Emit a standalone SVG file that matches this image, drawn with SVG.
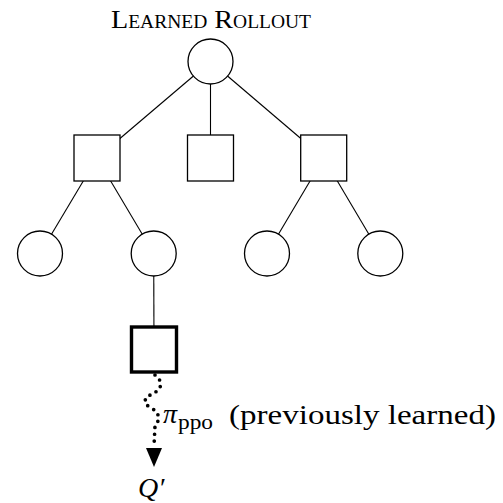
<svg xmlns="http://www.w3.org/2000/svg" width="503" height="503" viewBox="0 0 503 503">
<style>
.edge{stroke:#000;stroke-width:1.1;fill:none}
.node{fill:#fff;stroke:#000;stroke-width:1.3}
.bold{fill:#fff;stroke:#000;stroke-width:3.4}
.t{fill:#000}
</style>
<text class="t" x="111" y="28" font-family="'Liberation Serif','Times New Roman',serif" font-size="26" style="font-variant:small-caps" textLength="200" lengthAdjust="spacingAndGlyphs">Learned Rollout</text>
<g id="connectors">
<line class="edge" x1="210.5" y1="61.5" x2="97" y2="158"/>
<line class="edge" x1="210.5" y1="61.5" x2="210.5" y2="158"/>
<line class="edge" x1="210.5" y1="61.5" x2="323.7" y2="158"/>
<line class="edge" x1="97" y1="158" x2="40" y2="253.5"/>
<line class="edge" x1="97" y1="158" x2="153.7" y2="253.5"/>
<line class="edge" x1="323.7" y1="158" x2="267" y2="253.5"/>
<line class="edge" x1="323.7" y1="158" x2="380.3" y2="253.5"/>
<line class="edge" x1="153.7" y1="253.5" x2="154" y2="349.5"/>
<path d="M155,375 C163,381 163,389 152,394 C142,399 144,404 151,408 C159,412 161,419 155,426 L154,446" fill="none" stroke="#000" stroke-width="3.7" stroke-linecap="round" stroke-dasharray="0 6.8"/>
<polygon points="146,448 162,448 154,467" fill="#000"/>
</g>
<g id="root"><circle class="node" cx="210.5" cy="61.5" r="22.5"/></g>
<g id="sq-left"><rect class="node" x="74" y="135" width="46" height="46"/></g>
<g id="sq-mid"><rect class="node" x="187.5" y="135" width="46" height="46"/></g>
<g id="sq-right"><rect class="node" x="300.7" y="135" width="46" height="46"/></g>
<g id="c1"><circle class="node" cx="40" cy="253.5" r="22.5"/></g>
<g id="c2"><circle class="node" cx="153.7" cy="253.5" r="22.5"/></g>
<g id="c3"><circle class="node" cx="267" cy="253.5" r="22.5"/></g>
<g id="c4"><circle class="node" cx="380.3" cy="253.5" r="22.5"/></g>
<g id="sq-bold"><rect class="bold" x="131.5" y="327" width="45" height="45"/></g>
<g id="label" font-family="'Liberation Serif','Times New Roman',serif">
<text class="t" x="163" y="423" font-size="28" font-style="italic">π</text>
<text class="t" x="178" y="429" font-size="20" textLength="35" lengthAdjust="spacingAndGlyphs">ppo</text>
<text class="t" x="229" y="424" font-size="28" textLength="267" lengthAdjust="spacingAndGlyphs">(previously learned)</text>
</g>
<g id="q"><text class="t" x="138" y="497" font-family="'Liberation Serif','Times New Roman',serif" font-size="28" font-style="italic">Q′</text></g>
</svg>
